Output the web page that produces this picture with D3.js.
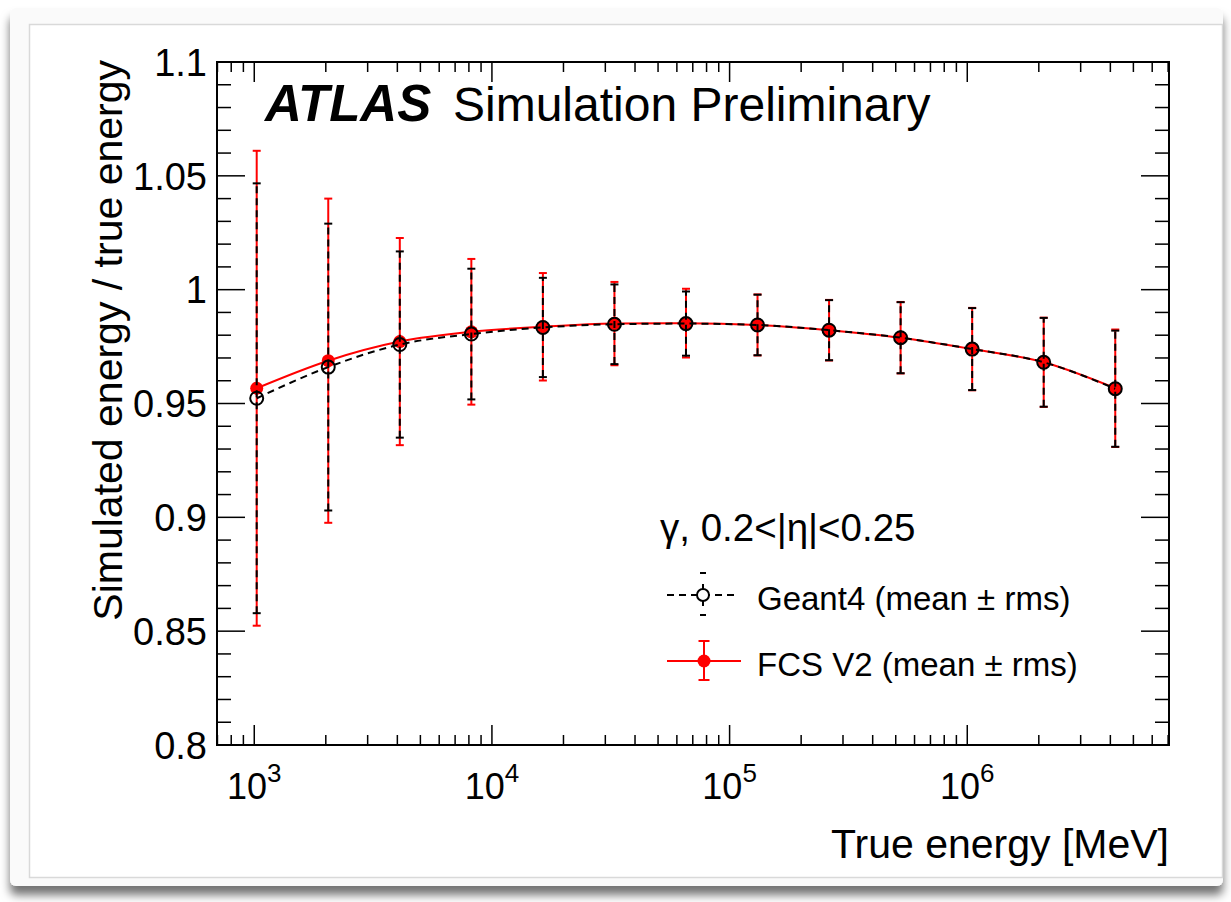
<!DOCTYPE html>
<html>
<head>
<meta charset="utf-8">
<script src="https://cdn.jsdelivr.net/npm/d3@7"></script>
<style>
  body { margin: 0; background: #fff; }
  svg text { font-family: "Liberation Sans", Arial, Helvetica, sans-serif; fill: #000; }
</style>
</head>
<body>
<svg id="chart" width="1231" height="902"></svg>
<script>
// true photon energies (MeV)
const energies = [1024, 2048, 4096, 8192, 16384, 32768, 65536, 131072, 262144, 524288, 1048576, 2097152, 4194304]

// Geant4 mean and rms of E_sim / E_true
const g4Mean = [0.9523, 0.9660, 0.9759, 0.9805, 0.9834, 0.9848, 0.9851, 0.9845, 0.9822, 0.9789, 0.9739, 0.9681, 0.9565]
const g4Rms  = [0.0944, 0.0630, 0.0409, 0.0287, 0.0218, 0.0175, 0.0141, 0.0133, 0.0132, 0.0156, 0.0180, 0.0195, 0.0255]

// FCS V2 mean and rms
const fcsMean = [0.9567, 0.9688, 0.9772, 0.9815, 0.9837, 0.9851, 0.9853, 0.9845, 0.9822, 0.9789, 0.9739, 0.9681, 0.9567]
const fcsRms  = [0.1043, 0.0712, 0.0455, 0.0320, 0.0236, 0.0183, 0.0151, 0.0134, 0.0133, 0.0157, 0.0181, 0.0196, 0.0258]

const yTickLabels = ["0.8", "0.85", "0.9", "0.95", "1", "1.05", "1.1"]
const xDecades = [3, 4, 5, 6]

const margin = {left: 217, right: 62, top: 62, bottom: 157}
const TOTAL_WIDTH = 1231, TOTAL_HEIGHT = 902
const width = TOTAL_WIDTH - margin.left - margin.right
const height = TOTAL_HEIGHT - margin.top - margin.bottom

const svg = d3.select("#chart")

// screenshot card with shadow
const defs = svg.append("defs")
const filt = defs.append("filter").attr("id", "shadow")
    .attr("x", "-5%").attr("y", "-5%").attr("width", "110%").attr("height", "112%")
filt.append("feDropShadow")
    .attr("dx", 0).attr("dy", 9).attr("stdDeviation", 5)
    .attr("flood-color", "#000").attr("flood-opacity", 0.55)

svg.append("rect")
    .attr("x", 10).attr("y", 8).attr("width", 1213).attr("height", 878)
    .attr("rx", 6)
    .attr("fill", "#fafafa")
    .attr("filter", "url(#shadow)")
svg.append("rect")
    .attr("x", 29.5).attr("y", 24.5).attr("width", 1193).attr("height", 853)
    .attr("fill", "#fff")
    .attr("stroke", "#d9d9d9")
    .attr("stroke-width", 1.5)

const xScale = d3.scaleLog()
    .domain([697, 7.06e6])
    .range([0, width])
const yScale = d3.scaleLinear()
    .domain([0.8, 1.1])
    .range([height, 0])

const g = svg.append("g")
    .attr("transform", `translate(${margin.left}, ${margin.top})`)

// ticks (ROOT style, drawn inward on all four sides)
const yMinor = d3.range(81, 110).map(d => d / 100)
const yMajor = yTickLabels.map(Number)
const tickG = g.append("g").attr("stroke", "#000").attr("stroke-width", 1.5)
yMinor.forEach(v => {
    const major = yMajor.some(m => Math.abs(m - v) < 1e-6)
    const len = major ? 28 : 14
    const y = yScale(v)
    tickG.append("line").attr("x1", 0).attr("x2", len).attr("y1", y).attr("y2", y)
    tickG.append("line").attr("x1", width).attr("x2", width - len).attr("y1", y).attr("y2", y)
})
const xTicks = []
for (let k = 2; k <= 6; k++) {
    for (let m = 1; m <= 9; m++) {
        const v = m * Math.pow(10, k)
        if (v > xScale.domain()[0] && v < xScale.domain()[1]) xTicks.push([v, m === 1])
    }
}
xTicks.forEach(([v, major]) => {
    const len = major ? 20 : 10
    const x = xScale(v)
    tickG.append("line").attr("x1", x).attr("x2", x).attr("y1", height).attr("y2", height - len)
    tickG.append("line").attr("x1", x).attr("x2", x).attr("y1", 0).attr("y2", len)
})

// frame
g.append("rect")
    .attr("x", 0).attr("y", 0)
    .attr("width", width).attr("height", height)
    .attr("fill", "none")
    .attr("stroke", "#000")
    .attr("stroke-width", 2)

// tick labels
g.selectAll(".ylab").data(yTickLabels).join("text")
    .attr("class", "ylab")
    .attr("x", -10)
    .attr("y", d => yScale(+d))
    .attr("dy", "0.36em")
    .attr("text-anchor", "end")
    .attr("font-size", 38)
    .text(d => d)

const xl = g.selectAll(".xlab").data(xDecades).join("text")
    .attr("class", "xlab")
    .attr("x", d => xScale(Math.pow(10, d)))
    .attr("y", height + 54)
    .attr("text-anchor", "middle")
    .attr("font-size", 36)
xl.append("tspan").text("10")
xl.append("tspan").attr("font-size", 26).attr("dy", -17).text(d => d)

// axis titles
svg.append("text")
    .attr("x", margin.left + width)
    .attr("y", 858)
    .attr("text-anchor", "end")
    .attr("font-size", 41)
    .text("True energy [MeV]")
svg.append("text")
    .attr("transform", "translate(122, 60) rotate(-90)")
    .attr("text-anchor", "end")
    .attr("font-size", 41)
    .text("Simulated energy / true energy")

// ATLAS label
const atl = svg.append("text")
    .attr("x", 265).attr("y", 121)
    .attr("font-size", 48)
atl.append("tspan").attr("font-weight", "bold").attr("font-style", "italic")
    .attr("font-size", 51).text("ATLAS")
atl.append("tspan").attr("x", 453).text("Simulation Preliminary")

// data
const fcs = energies.map((e, i) => ({e, m: fcsMean[i], r: fcsRms[i]}))
const g4 = energies.map((e, i) => ({e, m: g4Mean[i], r: g4Rms[i]}))

const line = d3.line()
    .curve(d3.curveMonotoneX)
    .x(d => xScale(d.e))
    .y(d => yScale(d.m))

function drawSeries(data, color, dash, filled, capW) {
    const s = g.append("g")
    s.append("path")
        .datum(data)
        .attr("fill", "none")
        .attr("stroke", color)
        .attr("stroke-width", 2)
        .attr("stroke-dasharray", dash)
        .attr("d", line)
    s.selectAll(".err").data(data).join("line")
        .attr("x1", d => xScale(d.e)).attr("x2", d => xScale(d.e))
        .attr("y1", d => yScale(d.m - d.r)).attr("y2", d => yScale(d.m + d.r))
        .attr("stroke", color).attr("stroke-width", 2)
        .attr("stroke-dasharray", dash)
    s.selectAll(".caplo").data(data).join("line")
        .attr("x1", d => xScale(d.e) - capW).attr("x2", d => xScale(d.e) + capW)
        .attr("y1", d => yScale(d.m - d.r)).attr("y2", d => yScale(d.m - d.r))
        .attr("stroke", color).attr("stroke-width", 2)
    s.selectAll(".caphi").data(data).join("line")
        .attr("x1", d => xScale(d.e) - capW).attr("x2", d => xScale(d.e) + capW)
        .attr("y1", d => yScale(d.m + d.r)).attr("y2", d => yScale(d.m + d.r))
        .attr("stroke", color).attr("stroke-width", 2)
    s.selectAll("circle").data(data).join("circle")
        .attr("cx", d => xScale(d.e))
        .attr("cy", d => yScale(d.m))
        .attr("r", 6.5)
        .attr("fill", filled ? color : "none")
        .attr("stroke", filled ? "none" : color)
        .attr("stroke-width", 2)
}
drawSeries(fcs, "#ff0000", null, true, 4)
drawSeries(g4, "#000", "7,5", false, 4)

// legend
svg.append("text")
    .attr("x", 660).attr("y", 541)
    .attr("font-size", 38.5)
    .text("γ, 0.2<|η|<0.25")

const lg = svg.append("g")
// Geant4 entry
lg.append("line").attr("x1", 667).attr("x2", 737).attr("y1", 595).attr("y2", 595)
    .attr("stroke", "#000").attr("stroke-width", 2).attr("stroke-dasharray", "7,5")
lg.append("line").attr("x1", 703).attr("x2", 703).attr("y1", 584).attr("y2", 606)
    .attr("stroke", "#000").attr("stroke-width", 2)
lg.append("line").attr("x1", 700).attr("x2", 706).attr("y1", 573).attr("y2", 573)
    .attr("stroke", "#000").attr("stroke-width", 2)
lg.append("line").attr("x1", 700).attr("x2", 706).attr("y1", 615).attr("y2", 615)
    .attr("stroke", "#000").attr("stroke-width", 2)
lg.append("circle").attr("cx", 703).attr("cy", 595).attr("r", 6)
    .attr("fill", "#fff").attr("stroke", "#000").attr("stroke-width", 2)
lg.append("text").attr("x", 757).attr("y", 610).attr("font-size", 33)
    .text("Geant4 (mean ± rms)")
// FCS entry
lg.append("line").attr("x1", 667).attr("x2", 741).attr("y1", 661).attr("y2", 661)
    .attr("stroke", "#ff0000").attr("stroke-width", 2)
lg.append("line").attr("x1", 704).attr("x2", 704).attr("y1", 641).attr("y2", 680)
    .attr("stroke", "#ff0000").attr("stroke-width", 2)
lg.append("line").attr("x1", 698.5).attr("x2", 709.5).attr("y1", 641).attr("y2", 641)
    .attr("stroke", "#ff0000").attr("stroke-width", 2)
lg.append("line").attr("x1", 698.5).attr("x2", 709.5).attr("y1", 680).attr("y2", 680)
    .attr("stroke", "#ff0000").attr("stroke-width", 2)
lg.append("circle").attr("cx", 704).attr("cy", 661).attr("r", 6.5).attr("fill", "#ff0000")
lg.append("text").attr("x", 757).attr("y", 676).attr("font-size", 33)
    .text("FCS V2 (mean ± rms)")
</script>
</body>
</html>
